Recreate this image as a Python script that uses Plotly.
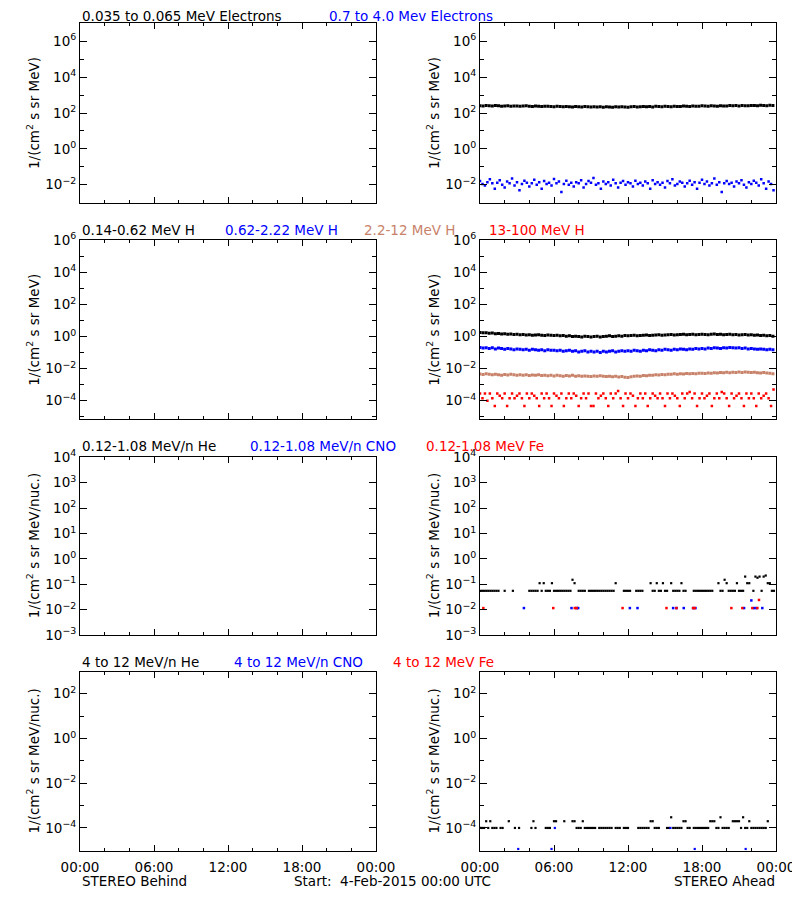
import numpy as np
import plotly.graph_objects as go

# page body adds an 8 px margin; figure coordinates are offset so it lines up with the window
OFF = 8
W, H = 800 - OFF, 900 - OFF
FONT = "DejaVu Sans"
BROWN = "#C8826A"

# ---------------- data (STEREO Ahead) ----------------
t15 = np.arange(0, 24, 0.25)     # 15-min grid, hours
t12 = np.arange(0, 24, 0.2)      # 12-min grid, hours
t10 = np.arange(0, 24, 1 / 6)    # 10-min grid, hours

e_lo = [255, 248, 262, 250, 244, 258, 251, 240, 247, 253, 238, 245, 249, 236, 242, 251, 239, 233, 246, 238, 229, 241, 235, 230,
        226, 238, 231, 222, 234, 225, 219, 230, 224, 216, 228, 221, 213, 225, 218, 222, 212, 224, 217, 209, 221, 215, 226, 218,
        212, 223, 230, 219, 226, 233, 222, 229, 218, 235, 227, 221, 238, 230, 224, 241, 233, 228, 244, 236, 231, 247, 240, 235,
        250, 243, 238, 254, 246, 241, 257, 249, 244, 260, 252, 258, 247, 263, 255, 250, 266, 258, 253, 268, 261, 256, 270, 264]

e_hi = [0.016, 0.011, 0.009, 0.014, 0.02, 0.012, 0.006, 0.013, 0.018, 0.01,
        0.007, 0.015, 0.012, 0.022, 0.009, 0.014, 0.005, 0.011, 0.017, 0.013,
        0.008, 0.012, 0.019, 0.01, 0.014, 0.006, 0.016, 0.011, 0.013, 0.009,
        0.021, 0.012, 0.015, 0.004, 0.011, 0.017, 0.01, 0.013, 0.008, 0.014,
        0.012, 0.018, 0.007, 0.011, 0.016, 0.013, 0.024, 0.01, 0.012, 0.006,
        0.015, 0.011, 0.014, 0.009, 0.019, 0.012, 0.007, 0.013, 0.016, 0.01,
        0.014, 0.012, 0.008, 0.017, 0.011, 0.013, 0.009, 0.015, 0.012, 0.006,
        0.018, 0.011, 0.014, 0.01, 0.013, 0.007, 0.016, 0.012, 0.02, 0.009,
        0.011, 0.015, 0.013, 0.008, 0.012, 0.017, 0.01, 0.014, 0.006, 0.013,
        0.019, 0.011, 0.015, 0.009, 0.012, 0.022, 0.01, 0.014, 0.004, 0.012,
        0.016, 0.011, 0.013, 0.008, 0.015, 0.012, 0.018, 0.01, 0.007, 0.014,
        0.011, 0.017, 0.013, 0.009, 0.02, 0.012, 0.006, 0.015, 0.011, 0.005]

h1 = [1.8, 1.7, 1.75, 1.6, 1.65, 1.5, 1.55, 1.45, 1.5, 1.4, 1.45, 1.35, 1.4, 1.3, 1.35, 1.25, 1.3, 1.2, 1.25, 1.3, 1.2, 1.15, 1.25, 1.2,
      1.15, 1.2, 1.1, 1.15, 1.05, 1.1, 1.0, 1.05, 1.0, 0.95, 1.05, 1.0, 0.95, 1.0, 1.05, 0.95, 1.0, 1.05, 1.1, 1.0, 1.05, 1.1, 1.05, 1.15,
      1.1, 1.15, 1.2, 1.1, 1.15, 1.2, 1.25, 1.15, 1.2, 1.25, 1.3, 1.2, 1.25, 1.3, 1.35, 1.25, 1.3, 1.35, 1.4, 1.3, 1.35, 1.4, 1.3, 1.35,
      1.4, 1.35, 1.3, 1.4, 1.45, 1.35, 1.4, 1.3, 1.35, 1.4, 1.3, 1.35, 1.25, 1.3, 1.35, 1.25, 1.3, 1.2, 1.25, 1.15, 1.2, 1.1, 1.15, 1.05]

h2 = [0.21, 0.19, 0.2, 0.18, 0.2, 0.17, 0.19, 0.18, 0.16, 0.18, 0.17, 0.15, 0.17, 0.16, 0.15, 0.16, 0.14, 0.16, 0.15, 0.14, 0.15, 0.13, 0.15, 0.14,
      0.14, 0.13, 0.14, 0.12, 0.13, 0.14, 0.12, 0.13, 0.11, 0.12, 0.13, 0.11, 0.12, 0.11, 0.12, 0.1, 0.12, 0.11, 0.12, 0.13, 0.11, 0.12, 0.13, 0.12,
      0.13, 0.12, 0.14, 0.13, 0.12, 0.14, 0.13, 0.15, 0.14, 0.13, 0.15, 0.14, 0.16, 0.15, 0.14, 0.16, 0.15, 0.17, 0.16, 0.15, 0.17, 0.16, 0.18, 0.17,
      0.18, 0.17, 0.19, 0.18, 0.2, 0.19, 0.18, 0.2, 0.19, 0.21, 0.2, 0.19, 0.2, 0.18, 0.19, 0.17, 0.18, 0.17, 0.16, 0.17, 0.16, 0.15, 0.16, 0.15]

h3 = [0.0046, 0.0043, 0.0048, 0.0044, 0.0041, 0.0045, 0.0042, 0.0039, 0.0043, 0.004, 0.0044, 0.0041, 0.0038, 0.0042, 0.0039, 0.0041, 0.0037, 0.004, 0.0038, 0.0041, 0.0037, 0.0039, 0.0036, 0.0038,
      0.0035, 0.0038, 0.0036, 0.0034, 0.0037, 0.0035, 0.0038, 0.0034, 0.0036, 0.0033, 0.0035, 0.0034, 0.0032, 0.0035, 0.0033, 0.0036, 0.0034, 0.0032, 0.0034, 0.0031, 0.0033, 0.003, 0.0032, 0.0029,
      0.0028, 0.0031, 0.0033, 0.0035, 0.0034, 0.0037, 0.0036, 0.0039, 0.0038, 0.0041, 0.004, 0.0043, 0.0042, 0.0045, 0.0044, 0.0047, 0.0045, 0.0048, 0.0046, 0.0049, 0.0047, 0.005, 0.0048, 0.0051,
      0.0052, 0.005, 0.0054, 0.0052, 0.0056, 0.0053, 0.0057, 0.0055, 0.0059, 0.0056, 0.006, 0.0057, 0.0061, 0.0058, 0.0062, 0.0059, 0.0057, 0.006, 0.0056, 0.0054, 0.0057, 0.0053, 0.0051, 0.0048]

h4 = [2.8e-4, 1.4e-4, 2.8e-4, 1e-4, 2.8e-4, 1.4e-4, 4.7e-5, 2.8e-4, 2e-4, 1.4e-4,
      2.8e-4, 4.7e-5, 1.4e-4, 2.8e-4, 1.4e-4, 2e-4, 2.8e-4, 1.4e-4, 4.7e-5, 2.8e-4,
      1.4e-4, 2.8e-4, 2e-4, 1.4e-4, 4.7e-5, 2.8e-4, 1.4e-4, 2.8e-4, 1.4e-4, 4.7e-5,
      2.8e-4, 2e-4, 1.4e-4, 2.8e-4, 4.7e-5, 1.4e-4, 2.8e-4, 1.4e-4, 2.8e-4, 2e-4,
      4.7e-5, 1.4e-4, 2.8e-4, 1.4e-4, 2.8e-4, 4.7e-5, 4.7e-5, 2.8e-4, 1.4e-4, 2e-4,
      2.8e-4, 1.4e-4, 4.7e-5, 2.8e-4, 1.4e-4, 2.8e-4, 4e-4, 1.4e-4, 4.7e-5, 2.8e-4,
      1.4e-4, 2.8e-4, 2e-4, 4.7e-5, 1.4e-4, 2.8e-4, 1.4e-4, 2.8e-4, 4.7e-5, 1.4e-4,
      2.8e-4, 2e-4, 1.4e-4, 2.8e-4, 1.4e-4, 4.7e-5, 2.8e-4, 1.4e-4, 2.8e-4, 2e-4,
      1.4e-4, 4.7e-5, 2.8e-4, 1.4e-4, 2.8e-4, 3.5e-4, 1.4e-4, 2.8e-4, 4.7e-5, 1.4e-4,
      2.8e-4, 1.4e-4, 2e-4, 2.8e-4, 4.7e-5, 1.4e-4, 2.8e-4, 1.4e-4, 3.5e-4, 2.8e-4,
      1.4e-4, 4.7e-5, 2.8e-4, 1.4e-4, 2e-4, 2.8e-4, 1.4e-4, 4.7e-5, 2.8e-4, 1.4e-4,
      2.8e-4, 1.4e-4, 4.7e-5, 2.8e-4, 1.4e-4, 2e-4, 2.8e-4, 1.4e-4, 4.7e-5, 5e-4]

N = None
he_lo = [0.055, 0.055, 0.055, 0.055, 0.055, 0.055, 0.055, 0.055, 0.055, 0.055, N, N,
         0.055, N, N, N, 0.055, N, N, N, N, N, N, N,
         0.055, 0.055, 0.055, 0.055, 0.055, 0.11, 0.055, 0.11, 0.055, 0.055, 0.055, 0.11,
         0.055, 0.055, 0.055, 0.055, 0.055, 0.055, 0.055, 0.055, 0.055, 0.15, 0.11, N,
         0.055, 0.055, 0.055, 0.055, N, 0.055, 0.055, 0.055, 0.055, 0.055, 0.055, 0.055,
         0.055, 0.055, 0.055, 0.055, 0.055, 0.055, 0.11, N, N, N, 0.055, 0.055,
         0.055, 0.055, N, N, 0.055, 0.055, 0.055, 0.055, N, N, N, 0.11,
         0.055, 0.055, 0.11, 0.055, 0.055, 0.11, 0.055, 0.055, N, 0.11, 0.055, 0.055,
         0.055, 0.055, 0.11, 0.055, 0.055, N, N, N, 0.055, 0.055, 0.055, 0.055,
         0.055, 0.055, 0.055, 0.055, 0.055, 0.055, N, N, 0.11, 0.055, 0.055, 0.15,
         0.11, 0.055, 0.055, 0.055, 0.055, 0.11, 0.055, 0.055, 0.055, 0.2, 0.11, 0.11,
         N, 0.055, 0.2, 0.18, 0.2, 0.055, 0.2, 0.22, 0.11, 0.11, 0.055, 0.055]

cno_lo_t = [3.56, 7.42, 7.83, 7.96, 12.15, 12.77, 15.66, 15.93, 16.52, 17.28, 17.47, 21.41, 22.0, 22.22, 22.41, 22.89]
cno_lo = [0.0115, 0.0115, 0.0115, 0.0115, 0.0115, 0.0115, 0.0115, 0.0115, 0.0115, 0.0115, 0.0115, 0.0115, 0.023, 0.0115, 0.0115, 0.0115]
fe_lo_t = [0.27, 5.94, 7.69, 7.83, 11.56, 15.12, 15.93, 17.28, 17.41, 20.38, 21.27, 22.08, 22.49, 22.62]
fe_lo = [0.0115, 0.0115, 0.0115, 0.0115, 0.0115, 0.0115, 0.0115, 0.0115, 0.0115, 0.0115, 0.0115, 0.0115, 0.0115, 0.024]

he_hi = [1e-4, 1e-4, 1e-4, 2e-4, 1e-4, 2e-4, 1e-4, 1e-4, 1e-4, N, 1e-4, 1e-4,
         N, N, 2e-4, N, N, 1e-4, N, 1e-4, N, N, N, N,
         N, 1e-4, 2e-4, 1e-4, N, N, N, N, 1e-4, 1e-4, 1e-4, N,
         2e-4, 2e-4, N, N, N, 2e-4, N, N, N, 2e-4, 2e-4, 1e-4,
         1e-4, 1e-4, 2e-4, 1e-4, 1e-4, 1e-4, 1e-4, 1e-4, 1e-4, N, 1e-4, 1e-4,
         1e-4, 1e-4, 1e-4, 1e-4, 1e-4, N, 1e-4, 1e-4, 1e-4, N, 1e-4, 1e-4,
         1e-4, N, N, N, N, 1e-4, 1e-4, 1e-4, 1e-4, 1e-4, 1e-4, 2e-4,
         2e-4, 1e-4, 1e-4, 1e-4, N, N, N, 1e-4, 1e-4, 3e-4, 1e-4, 1e-4,
         1e-4, 1e-4, 1e-4, 2e-4, 2e-4, 1e-4, 1e-4, N, 1e-4, 1e-4, 1e-4, 1e-4,
         1e-4, 1e-4, 1e-4, 1e-4, 2e-4, 2e-4, 2e-4, 1e-4, 1e-4, 3e-4, 1e-4, 1e-4,
         1e-4, 1e-4, N, 2e-4, 2e-4, 2e-4, 2e-4, 1e-4, 3e-4, 1e-4, 1e-4, 2e-4,
         1e-4, 1e-4, 1e-4, 1e-4, 1e-4, 1e-4, 1e-4, 1e-4, 2e-4, N, N, N]

cno_hi_t = [3.1, 5.8, 6.07, 15.44, 17.41, 21.54]
cno_hi = [1.15e-5, 1.15e-5, 1e-4, 1e-4, 1.15e-5, 1.15e-5]

# ---------------- layout geometry (window pixels) ----------------
cols = [(80, 376), (480, 776)]
rows = [(23.3, 202.7), (240.3, 419.3), (457.3, 635.0), (672.0, 851.0)]
yranges = [(-3, 7), (-5.16, 6), (-3, 4), (-5.03, 2.97)]
ymajor = [[6, 4, 2, 0, -2], [6, 4, 2, 0, -2, -4], [4, 3, 2, 1, 0, -1, -2, -3], [2, 0, -2, -4]]
yminor = [[5, 3, 1, -1], [5, 3, 1, -1, -3, -5], [], [1, -1, -3, -5]]
FS = 13.5


def px(x):
    return (x - OFF) / W


def py(y):
    return 1 - (y - OFF) / H


def sup(e):
    s = str(e).replace("-", "\u2212")
    return "10<sup>%s</sup>" % s


fig = go.Figure()
layout = dict(template="none", width=W, height=H, margin=dict(l=0, r=0, t=0, b=0, pad=0, autoexpand=False),
              paper_bgcolor="white", plot_bgcolor="white", showlegend=False,
              font=dict(family=FONT, size=FS, color="black"))
annotations = []

k = 0
panel_ids = {}
for r, (y0, y1) in enumerate(rows):
    for c, (x0, x1) in enumerate(cols):
        k += 1
        sx = "" if k == 1 else str(k)
        panel_ids[(r, c)] = ("x" + sx, "y" + sx)
        layout["xaxis" + sx] = dict(
            domain=[px(x0), px(x1)], anchor="y" + sx, range=[0, 24], automargin=False,
            tickmode="array", tickvals=[0, 6, 12, 18, 24],
            ticktext=["00:00", "06:00", "12:00", "18:00", "00:00"],
            showticklabels=(r == 3), ticks="inside", ticklen=6, tickwidth=1, tickcolor="black",
            minor=dict(tickmode="array", tickvals=[2, 4, 8, 10, 14, 16, 20, 22], ticks="inside",
                       ticklen=3, tickwidth=1, tickcolor="black", showgrid=False),
            showline=True, linecolor="black", linewidth=1, mirror="ticks",
            showgrid=False, zeroline=False, fixedrange=True, ticklabeloverflow="allow",
            tickfont=dict(family=FONT, size=FS), ticklabelstandoff=4)
        lo, hi = yranges[r]
        layout["yaxis" + sx] = dict(
            domain=[py(y1), py(y0)], anchor="x" + sx, type="log", range=[lo, hi], automargin=False,
            tickmode="array", tickvals=[10.0 ** e for e in ymajor[r]],
            ticktext=[sup(e) for e in ymajor[r]],
            ticks="inside", ticklen=7, tickwidth=1, tickcolor="black",
            minor=dict(tickmode="array", tickvals=[10.0 ** e for e in yminor[r]], ticks="inside",
                       ticklen=4, tickwidth=1, tickcolor="black", showgrid=False),
            showline=True, linecolor="black", linewidth=1, mirror="ticks",
            showgrid=False, zeroline=False, fixedrange=True, ticklabeloverflow="allow",
            tickfont=dict(family=FONT, size=FS), ticklabelstandoff=0)
        ytitle = "1/(cm<sup>2</sup> s sr MeV)" if r < 2 else "1/(cm<sup>2</sup> s sr MeV/nuc.)"
        annotations.append(dict(xref="paper", yref="paper", x=px(x0 - 47), y=py((y0 + y1) / 2),
                                text=ytitle, textangle=-90, showarrow=False,
                                xanchor="center", yanchor="middle", font=dict(family=FONT, size=FS)))


def add(r, x, y, color, size=3):
    xa, ya = panel_ids[(r, 1)]
    fig.add_trace(go.Scatter(x=x, y=y, xaxis=xa, yaxis=ya, mode="markers",
                             marker=dict(symbol="square", size=size, color=color, line=dict(width=0)),
                             hoverinfo="skip"))


# empty STEREO Behind panels need a trace so axes draw
for r in range(4):
    xa, ya = panel_ids[(r, 0)]
    fig.add_trace(go.Scatter(x=[], y=[], xaxis=xa, yaxis=ya, mode="markers"))

add(0, t15, e_lo, "black", 3)
add(0, t12, e_hi, "blue", 2.5)
add(1, t15, h1, "black", 3)
add(1, t15, h2, "blue", 3)
add(1, t15, h3, BROWN, 3)
add(1, t12, h4, "red", 2.5)
add(2, t10, he_lo, "black", 2.2)
add(2, cno_lo_t, cno_lo, "blue", 2.5)
add(2, fe_lo_t, fe_lo, "red", 2.5)
add(3, t10, he_hi, "black", 2.2)
add(3, cno_hi_t, cno_hi, "blue", 2.2)

# channel titles
titles = [
    [("0.035 to 0.065 MeV Electrons", "black", 81), ("0.7 to 4.0 Mev Electrons", "blue", 328)],
    [("0.14-0.62 MeV H", "black", 81), ("0.62-2.22 MeV H", "blue", 224), ("2.2-12 MeV H", BROWN, 363),
     ("13-100 MeV H", "red", 488)],
    [("0.12-1.08 MeV/n He", "black", 81), ("0.12-1.08 MeV/n CNO", "blue", 249), ("0.12-1.08 MeV Fe", "red", 425)],
    [("4 to 12 MeV/n He", "black", 81), ("4 to 12 MeV/n CNO", "blue", 233), ("4 to 12 MeV Fe", "red", 392)],
]
title_y = [16.5, 229.5, 446, 662]
for r, items in enumerate(titles):
    for text, color, xp in items:
        annotations.append(dict(xref="paper", yref="paper", x=px(xp), y=py(title_y[r]), text=text,
                                showarrow=False, xanchor="left", yanchor="middle", borderpad=0,
                                font=dict(family=FONT, size=FS, color=color)))

footer = [("STEREO Behind", 81, "left"), ("Start:\u00a0\u00a04-Feb-2015 00:00 UTC", 293, "left"),
          ("STEREO Ahead", 776, "right")]
for text, xp, anc in footer:
    annotations.append(dict(xref="paper", yref="paper", x=px(xp), y=py(881), text=text,
                            showarrow=False, xanchor=anc, yanchor="middle", borderpad=0,
                            font=dict(family=FONT, size=FS, color="black")))

layout["annotations"] = annotations
fig.update_layout(**layout)
fig.write_html("out.html")
